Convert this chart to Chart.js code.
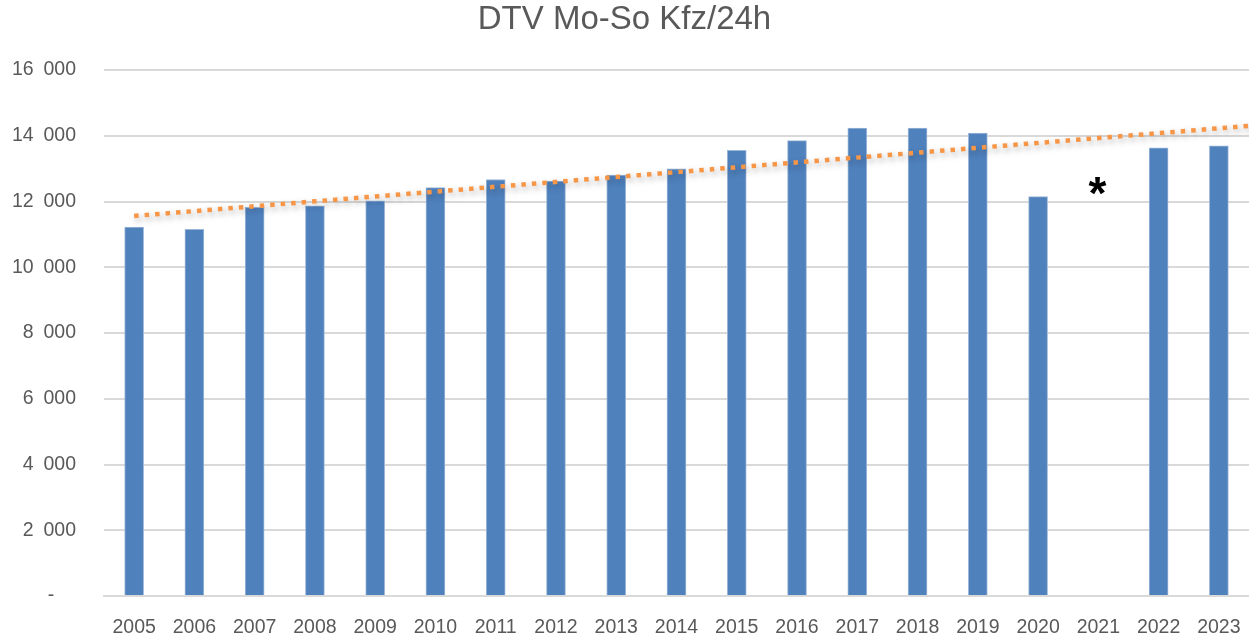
<!DOCTYPE html>
<html>
<head>
<meta charset="utf-8">
<script src="https://cdn.jsdelivr.net/npm/chart.js@4"></script>
<style>
  html, body { margin: 0; padding: 0; background: #fff; }
  #wrap { width: 1249px; height: 638px; }
</style>
</head>
<body>
<div id="wrap"><canvas id="dtvChart" width="1249" height="638"></canvas></div>
<script>
// Data
const YEARS = ["2005", "2006", "2007", "2008", "2009", "2010", "2011", "2012", "2013", "2014",
  "2015", "2016", "2017", "2018", "2019", "2020", "2021", "2022", "2023"];
const DTV = [11220, 11150, 11820, 11870, 12020, 12420, 12670, 12620, 12800, 12990,
  13560, 13850, 14230, 14230, 14080, 12150, null, 13630, 13690];
// Trendlinie (linear): Anfang bei 2005, Ende am rechten Rand
const TREND_X = [2005, 2023.5];
const TREND_Y = [11560, 14300];
const Y_TICKS = [0, 2000, 4000, 6000, 8000, 10000, 12000, 14000, 16000];
const NOTE_YEAR = "2021";
const NOTE_Y = 12470;

const FONT = '"Liberation Sans", Arial, sans-serif';
const TEXT = "#595959";

// Schatten für die Trendlinie + Sternchen für 2021
const extras = {
  id: "extras",
  beforeDatasetDraw(chart, args) {
    if (args.index === 1) {
      const c = chart.ctx;
      c.save();
      c.shadowColor = "rgba(0,0,0,0.35)";
      c.shadowBlur = 6;
      c.shadowOffsetX = 2;
      c.shadowOffsetY = 3;
    }
  },
  afterDatasetDraw(chart, args) {
    if (args.index === 1) chart.ctx.restore();
  },
  afterDraw(chart) {
    const c = chart.ctx;
    const x = chart.scales.x.getPixelForValue(YEARS.indexOf(NOTE_YEAR));
    const y = chart.scales.y.getPixelForValue(NOTE_Y);
    c.save();
    c.fillStyle = "#000";
    c.font = "bold 46px " + FONT;
    c.textAlign = "center";
    c.textBaseline = "middle";
    c.fillText("*", x - 1, y + 10);
    c.restore();
  },
};

function fmt(v) {
  if (v === 0) return "-    ";
  const s = String(v);
  return s.slice(0, s.length - 3) + "\u2002" + s.slice(-3);
}

new Chart(document.getElementById("dtvChart"), {
  data: {
    labels: YEARS,
    datasets: [
      {
        type: "bar",
        label: "DTV",
        data: DTV,
        backgroundColor: "#4f81bd",
        borderColor: "#9db7d8",
        borderWidth: 1,
        barThickness: 19,
        grouped: false,
        xAxisID: "x",
        order: 2,
      },
      {
        type: "line",
        label: "Trend",
        data: TREND_X.map((x, i) => ({ x, y: TREND_Y[i] })),
        borderColor: "#f79646",
        borderWidth: 4.5,
        borderDash: [4.5, 6],
        borderCapStyle: "butt",
        pointRadius: 0,
        fill: false,
        xAxisID: "xTrend",
        order: 1,
      },
    ],
  },
  options: {
    responsive: false,
    animation: false,
    plugins: {
      legend: { display: false },
      tooltip: { enabled: false },
      title: {
        display: true,
        text: "DTV Mo-So Kfz/24h",
        color: TEXT,
        font: { family: FONT, size: 33, weight: "normal" },
        padding: { top: 0, bottom: 30.4 },
      },
    },
    scales: {
      x: {
        type: "category",
        offset: true,
        grid: { display: false, drawTicks: false },
        border: { color: "#d9d9d9", width: 2 },
        ticks: { color: TEXT, font: { family: FONT, size: 19.5 }, padding: 20, maxRotation: 0, autoSkip: false },
        afterFit(s) {
          s.height = 42;
          s.paddingLeft = 0;
          s.paddingRight = 0;
        },
      },
      xTrend: {
        type: "linear",
        display: false,
        min: 2004.5,
        max: 2023.5,
      },
      y: {
        min: 0,
        max: 16000,
        afterBuildTicks(s) { s.ticks = Y_TICKS.map((v) => ({ value: v })); },
        grid: { color: "#d9d9d9", lineWidth: 2, drawTicks: false },
        border: { display: false },
        ticks: { color: TEXT, font: { family: FONT, size: 19.5 }, padding: 28, callback: fmt },
        afterFit(s) { s.width = 104; },
      },
    },
  },
  plugins: [extras],
});
</script>
</body>
</html>
